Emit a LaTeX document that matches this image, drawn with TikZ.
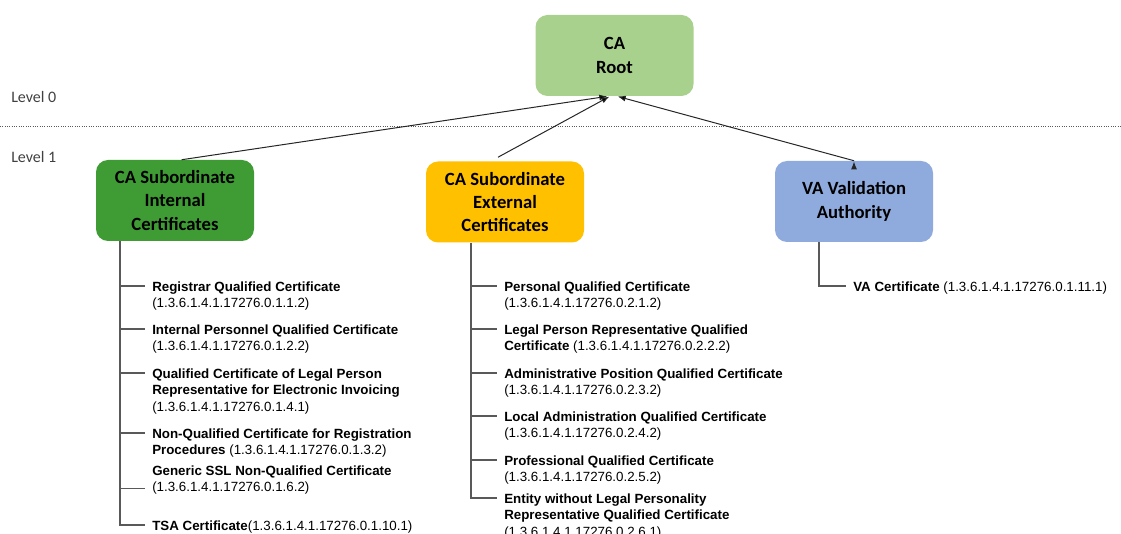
\documentclass[tikz,border=0pt]{standalone}
\usepackage{fontspec}
\setmainfont{Liberation Sans}
\newfontfamily\calibri{Carlito}
\usetikzlibrary{arrows.meta}
\definecolor{rootgreen}{HTML}{A9D18E}
\definecolor{intgreen}{HTML}{3F9C35}
\definecolor{extorange}{HTML}{FFC000}
\definecolor{vablue}{HTML}{8FAADC}
\definecolor{linegray}{HTML}{595959}
\definecolor{levelgray}{HTML}{404040}

\begin{document}
\begin{tikzpicture}[x=0.75pt,y=-0.75pt,>={Latex[length=6pt,width=4.5pt]},
  ca box/.style={rounded corners=9pt,minimum width=118.5pt,minimum height=60.75pt,align=center,font=\calibri\bfseries\fontsize{14}{17.5}\selectfont},
  cert/.style={anchor=north west,yshift=5.08pt,inner sep=0pt,align=left,font=\fontsize{10}{12.4}\selectfont},
  level/.style={anchor=west,inner sep=0pt,text=levelgray,font=\calibri\fontsize{12}{14}\selectfont},
  tree/.style={draw=linegray,line width=0.8pt},
  arrow/.style={->,draw=black!85,line width=0.75pt,shorten >=0.5pt}]
  \useasboundingbox (0,0) rectangle (1121,534);

  % levels
  \node[level] (lv0) at (11,97) {Level 0};
  \node[level] (lv1) at (11,157) {Level 1};
  \draw[linegray,densely dotted,line width=0.75pt] (0,127) -- (1121,127);

  % boxes
  \node[ca box,fill=rootgreen] (root) at (614.5,55.5) {CA\\Root};
  \node[ca box,fill=intgreen] (int) at (175,200.5) {CA Subordinate\\Internal\\Certificates};
  \node[ca box,fill=extorange] (ext) at (505,202) {CA Subordinate\\External\\Certificates};
  \node[ca box,fill=vablue] (va) at (854,201.5) {VA Validation\\Authority};

  \path[arrow]
    ([xshift=5pt]int.north) edge ([xshift=-4.9pt]root.south)
    ([xshift=-5.25pt,yshift=3pt]ext.north) edge ([xshift=-3.4pt]root.south)
    (va.north) edge ([xshift=1.9pt]root.south);

  % internal certificates
  \node[cert] (i1) at (152,286) {\strut\textbf{Registrar Qualified Certificate}\\(1.3.6.1.4.1.17276.0.1.1.2)};
  \node[cert] (i2) at (152,329) {\strut\textbf{Internal Personnel Qualified Certificate}\\(1.3.6.1.4.1.17276.0.1.2.2)};
  \node[cert] (i3) at (152,373) {\strut\textbf{Qualified Certificate of Legal Person}\\\textbf{Representative for Electronic Invoicing}\\(1.3.6.1.4.1.17276.0.1.4.1)};
  \node[cert] (i4) at (152,433) {\strut\textbf{Non-Qualified Certificate for Registration}\\\textbf{Procedures} (1.3.6.1.4.1.17276.0.1.3.2)};
  \node[cert] (i5) at (152,470) {\strut\textbf{Generic SSL Non-Qualified Certificate}\\(1.3.6.1.4.1.17276.0.1.6.2)};
  \node[cert] (i6) at (152,525) {\strut\textbf{TSA Certificate}(1.3.6.1.4.1.17276.0.1.10.1)};

  % external certificates
  \node[cert] (e1) at (504,286) {\strut\textbf{Personal Qualified Certificate}\\(1.3.6.1.4.1.17276.0.2.1.2)};
  \node[cert] (e2) at (504,329) {\strut\textbf{Legal Person Representative Qualified}\\\textbf{Certificate} (1.3.6.1.4.1.17276.0.2.2.2)};
  \node[cert] (e3) at (504,373) {\strut\textbf{Administrative Position Qualified Certificate}\\(1.3.6.1.4.1.17276.0.2.3.2)};
  \node[cert] (e4) at (504,416) {\strut\textbf{Local Administration Qualified Certificate}\\(1.3.6.1.4.1.17276.0.2.4.2)};
  \node[cert] (e5) at (504,460) {\strut\textbf{Professional Qualified Certificate}\\(1.3.6.1.4.1.17276.0.2.5.2)};
  \node[cert] (e6) at (504,498) {\strut\textbf{Entity without Legal Personality}\\\textbf{Representative Qualified Certificate}\\(1.3.6.1.4.1.17276.0.2.6.1)};

  % validation authority
  \node[cert] (v1) at (853,286) {\strut\textbf{VA Certificate} (1.3.6.1.4.1.17276.0.1.11.1)};

  % trees
  \draw[tree] ([xshift=-41.25pt]int.south) |- ([shift={(-5.625pt,-5.08pt)}]i6.north west);
  \draw[tree] ([xshift=-25.5pt]ext.south) |- ([shift={(-5.625pt,-5.08pt)}]e6.north west);
  \draw[tree] ([xshift=-26.25pt]va.south) |- ([shift={(-5.625pt,-5.08pt)}]v1.north west);
  \foreach \n in {i1,i2,i3,i4,e1,e2,e3,e4,e5}
    \draw[tree] ([shift={(-5.625pt,-5.08pt)}]\n.north west) -- ++(-18.75pt,0);
  \draw[tree] ([shift={(-5.625pt,-19.3pt)}]i5.north west) -- ++(-18.75pt,0);
\end{tikzpicture}
\end{document}
